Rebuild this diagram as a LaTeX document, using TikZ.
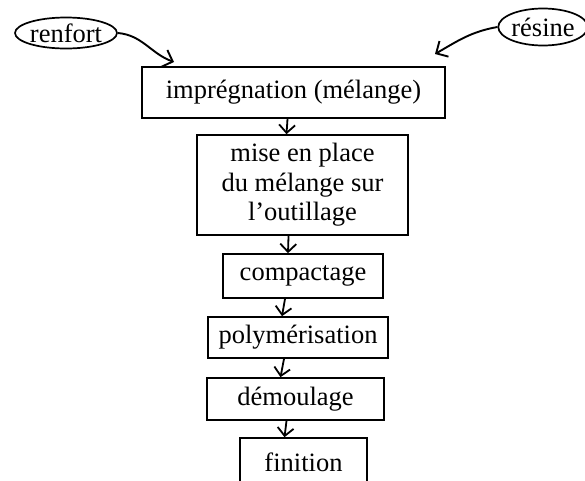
\documentclass[tikz,border=0pt]{standalone}
\usepackage{fontspec}
\setmainfont{Liberation Serif}
\usetikzlibrary{arrows.meta,shapes.geometric,calc}
\tikzset{
  stepbox/.style={draw, line width=1.7pt, rectangle, inner sep=0pt, align=center},
  blob/.style={draw, line width=1.7pt, ellipse, inner sep=0pt},
  flow/.style={line width=1.8pt, -{Straight Barb[length=8pt,width=16pt,line width=1.8pt]}},
  feed/.style={line width=1.9pt, -{Straight Barb[length=9pt,width=18pt,line width=1.9pt]}}
}
\begin{document}
\begin{tikzpicture}[x=1pt,y=-1pt,font=\fontsize{26.5}{29.5}\selectfont]
\useasboundingbox (0,0) rectangle (585,480);
\clip (0,0) rectangle (585,480);
\node[blob, minimum width=102pt, minimum height=31pt] (renfort) at (66,33) {renfort};
\node[blob, minimum width=86pt, minimum height=37pt] (resine) at (543,27) {résine};
\node[stepbox, minimum width=303pt, minimum height=51pt] (b1) at (293.5,92.5) {imprégnation (mélange)};
\node[stepbox, minimum width=211pt, minimum height=100pt] (b2) at (302.5,185) {mise en place\\du mélange sur\\l’outillage};
\node[stepbox, minimum width=160pt, minimum height=44pt] (b3) at (303,276) {compactage};
\node[stepbox, minimum width=180pt, minimum height=41pt] (b4) at (298,337.5) {polymérisation};
\node[stepbox, minimum width=177pt, minimum height=42pt] (b5) at (295.5,399) {démoulage};
\node[stepbox, minimum width=127pt, minimum height=48pt] (b6) at (303.5,462) {finition};
\coordinate (t1) at (174,62);
\coordinate (t2) at (435,54);
\draw[feed] (renfort.east) to[out=-5,in=160] (t1);
\draw[feed] (resine.west) to[out=190,in=30] (t2);
\draw[flow] ($(b1.south)+(-6,0)$) -- ($(b2.north)+(-16,0)$);
\draw[flow] ($(b2.south)+(-14,0)$) -- ($(b3.north)+(-15,0)$);
\draw[flow] ($(b3.south)+(-18,0)$) -- ($(b4.north)+(-16,0)$);
\draw[flow] ($(b4.south)+(-14,0)$) -- ($(b5.north)+(-15,0)$);
\draw[flow] ($(b5.south)+(-9,0)$) -- ($(b6.north)+(-19,0)$);
\end{tikzpicture}
\end{document}
